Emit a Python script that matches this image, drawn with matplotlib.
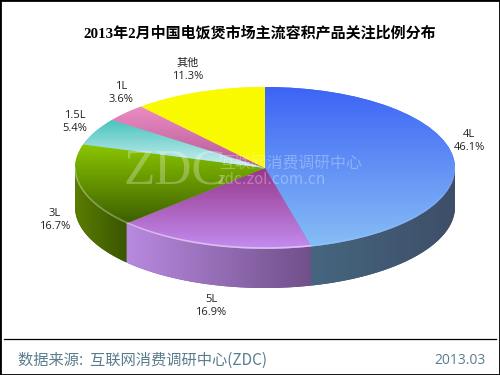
import numpy as np
import matplotlib
matplotlib.use('Agg')
import matplotlib.pyplot as plt
from matplotlib.patches import Rectangle, Polygon
from matplotlib.colors import LinearSegmentedColormap

plt.rcParams['font.family'] = ['Noto Sans CJK SC', 'DejaVu Sans']

title = '2013年2月中国电饭煲市场主流容积产品关注比例分布'
labels = ['4L', '5L', '3L', '1.5L', '1L', '其他']
values = [46.1, 16.9, 16.7, 5.4, 3.6, 11.3]
source = '数据来源:  互联网消费调研中心(ZDC)'
date = '2013.03'

# top and bottom colour of each slice
top_cols = ['#3c64f5', '#96378a', '#8cc800', '#46c3be', '#ec8cc4', '#fafa00']
bot_cols = ['#87bef5', '#c38cf0', '#3c5f00', '#d2f0f0', '#b45a96', '#fafa00']
# side colours, left to right
side_cols = {0: ('#46667f', '#3e4e68'), 1: ('#b98ae0', '#70508a'), 2: ('#5a7d00', '#3a5500')}
# rim highlight strength per side
rim_alpha = {0: 0.08, 1: 0.45, 2: 0.3}
# label centres in pixels
label_xy = [(469, 141), (211, 306), (55, 220), (75, 122), (121, 93), (188, 70)]

W, H = 500, 375
cx, cy, rx, ry, depth = 265, 168, 190, 81, 39
d = depth / ry


def px(x, y):
    return (x - cx) / rx, (cy - y) / ry


def gradient(ax, c0, c1, extent, clip, vertical=True, alpha=1, z=2):
    cmap = LinearSegmentedColormap.from_list('g', [c0, c1])
    g = np.linspace(0, 1, 256)
    g = g.reshape(-1, 1) if vertical else g.reshape(1, -1)
    im = ax.imshow(g, cmap=cmap, extent=extent, origin='upper', aspect='auto',
                   zorder=z, alpha=alpha, interpolation='bilinear')
    im.set_clip_path(clip)
    return im


fig = plt.figure(figsize=(5, 3.75), dpi=100, facecolor='white')
ax = fig.add_axes([0, 0, 1, 1])

wedges, _ = ax.pie(values, startangle=90, counterclock=False, radius=1,
                   colors=top_cols, wedgeprops={'linewidth': 0})

for i, w in enumerate(wedges):
    w.set_zorder(1)
    b = w.get_path().get_extents()
    gradient(ax, top_cols[i], bot_cols[i], (b.x0, b.x1, b.y0, b.y1), w, z=3)

# side wall, only the part of the rim that faces the viewer
edges = 90 - np.cumsum([0] + values) * 3.6
for i, (c0, c1) in side_cols.items():
    t1 = min(edges[i], 0)
    t2 = max(edges[i + 1], -180)
    t = np.radians(np.linspace(t1, t2, 120))
    x, y = np.cos(t), np.sin(t)
    pts = np.r_[np.c_[x, y], np.c_[x, y - d][::-1]]
    poly = Polygon(pts, closed=True, fc=c1, lw=0, zorder=1)
    ax.add_patch(poly)
    # colours go from the left end of each stretch to the right
    gradient(ax, c0, c1, (x.min(), x.max(), (y - d).min(), y.max()), poly,
             vertical=False, z=2)
    # light rim on the upper edge
    ax.plot(x, y + 0.012, color='white', alpha=rim_alpha[i], lw=1.2, zorder=4,
            solid_capstyle='butt')

ax.set_xlim(-cx / rx, (W - cx) / rx)
ax.set_ylim((cy - H) / ry, cy / ry)
ax.set_aspect('auto')
ax.axis('off')

# labels
for lab, v, (lx, ly) in zip(labels, values, label_xy):
    x, y = px(lx, ly)
    ax.text(x, y, f'{lab}\n{v}%', ha='center', va='center', fontsize=8,
            color='#222222', linespacing=1.2, zorder=6,
            family=['Open Sans', 'Noto Sans CJK SC'])

# watermark
ax.text(*px(175, 171), 'ZDC', fontsize=37, family='Liberation Serif', color='white',
        alpha=0.28, ha='center', va='center', zorder=5)
ax.text(*px(291, 164), '互联网消费调研中心', fontsize=11.4, color='white', alpha=0.3,
        ha='center', va='center', zorder=5)
ax.text(*px(272, 179), 'zdc.zol.com.cn', fontsize=10.5, color='white', alpha=0.3,
        ha='center', va='center', zorder=5, family='DejaVu Sans')

# title and footer
ax.text(*px(260, 33), title, fontsize=10.8, fontweight='bold', ha='center', va='center',
        color='black', family=['Liberation Serif', 'Noto Sans CJK SC'])
ax.text(*px(18, 360), source, fontsize=11, color='#5a7d8c', ha='left', va='center')
ax.text(*px(486, 360), date, fontsize=10, color='#5a7d8c', ha='right', va='center',
        family='Open Sans')

fig.add_artist(plt.Line2D([4 / W, 496 / W], [1 - 338.5 / H] * 2, color='black', lw=0.9))
fig.add_artist(Rectangle((0, 0), 1, 1, transform=fig.transFigure, fill=False,
                         ec='black', lw=2))

fig.savefig('out.png', dpi=100)
